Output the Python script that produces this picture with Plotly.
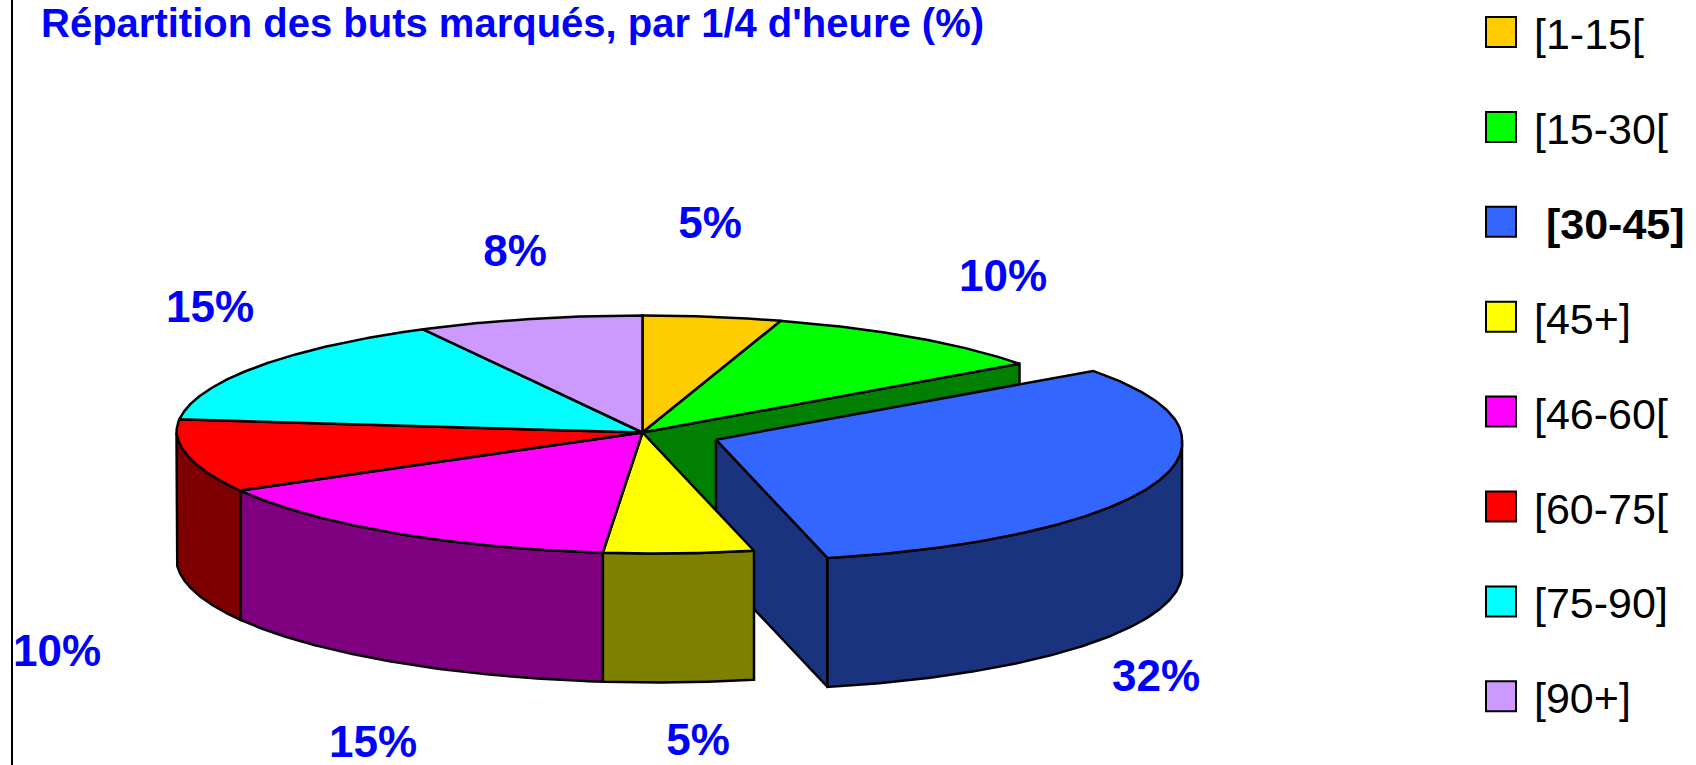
import numpy as np
import plotly.graph_objects as go

# ---------------- data ----------------
categories = ["[1-15[", "[15-30[", "[30-45]", "[45+]", "[46-60[", "[60-75[", "[75-90]", "[90+]"]
shares = [4.8, 10.2, 31.6, 5.2, 15.2, 9.8, 15.4, 7.8]          # % of goals per quarter hour
exploded = [False, False, True, False, False, False, False, False]
legend_bold = [False, False, True, False, False, False, False, False]
title_text = "Répartition des buts marqués, par 1/4 d'heure (%)"

# ---------------- styles / positions ----------------
colors = ["#FFCC00", "#00FF00", "#3366FF", "#FFFF00", "#FF00FF", "#FF0000", "#00FFFF", "#CC99FF"]
label_pos = [(710, 227), (1003, 280), (1156, 680), (698, 744),
             (373, 746), (57, 655), (210, 311), (515, 255)]
W, H = 1696, 765
CX, CY = 642.5, 432.5          # apex of the pie top face (pixels)
RX, RY_BACK, RY_FRONT = 466.0, 117.0, 121.0
SHEAR = 13.0                   # slight front skew of Excel's 3-D projection
DEPTH = 129.0
EXPLODE = 0.167
EDGE_W = 2.5
FONT = "Liberation Sans, Arial, sans-serif"


def darker(hexcol):
    r, g, b = (int(hexcol[i:i + 2], 16) for i in (1, 3, 5))
    return "#%02X%02X%02X" % (r // 2, g // 2, b // 2)


def proj(theta, z=0.0, off=(0.0, 0.0)):
    theta = np.asarray(theta, dtype=float)
    c, s = np.cos(theta), np.sin(theta)
    ry = np.where(c > 0, RY_BACK, RY_FRONT)
    x = CX + RX * s + SHEAR * np.maximum(0.0, -c) + off[0]
    y = CY - ry * c + z + off[1]
    return x, y


def poly_trace(xs, ys, fill):
    return go.Scatter(x=list(xs), y=list(ys), mode="lines", fill="toself",
                      fillcolor=fill, line=dict(color="black", width=EDGE_W),
                      hoverinfo="skip", showlegend=False)


total = float(sum(shares))
cum = np.concatenate([[0.0], np.cumsum(shares) / total]) * 2 * np.pi
slices = []
for i in range(len(shares)):
    t1, t2 = cum[i], cum[i + 1]
    off = (0.0, 0.0)
    if exploded[i]:
        mx, my = proj((t1 + t2) / 2)
        off = (EXPLODE * (float(mx) - CX), EXPLODE * (float(my) - CY))
    slices.append(dict(t1=t1, t2=t2, off=off, color=colors[i], dark=darker(colors[i]), ex=exploded[i]))


def top_face(sl):
    th = np.linspace(sl["t1"], sl["t2"], 200)
    ax, ay = proj(th, 0, sl["off"])
    cx, cy = CX + sl["off"][0], CY + sl["off"][1]
    return poly_trace(np.concatenate([[cx], ax, [cx]]), np.concatenate([[cy], ay, [cy]]), sl["color"])


def outer_wall(sl):
    a1, a2 = max(sl["t1"], np.pi / 2), min(sl["t2"], 3 * np.pi / 2)
    if a2 <= a1:
        return None
    th = np.linspace(a1, a2, 200)
    tx, ty = proj(th, 0, sl["off"])
    bx, by = proj(th[::-1], DEPTH, sl["off"])
    return poly_trace(np.concatenate([tx, bx, [tx[0]]]), np.concatenate([ty, by, [ty[0]]]), sl["dark"])


def radial_face(sl, theta):
    ox, oy = sl["off"]
    rx0, ry0 = proj(theta, 0, sl["off"])
    rx1, ry1 = proj(theta, DEPTH, sl["off"])
    xs = [CX + ox, float(rx0), float(rx1), CX + ox, CX + ox]
    ys = [CY + oy, float(ry0), float(ry1), CY + oy + DEPTH, CY + oy]
    return poly_trace(xs, ys, sl["dark"])


traces = []
n = len(slices)
# 1. cut faces of the main pie exposed by the exploded slice(s)
for i, sl in enumerate(slices):
    if sl["ex"]:
        continue
    nxt, prv = slices[(i + 1) % n], slices[(i - 1) % n]
    if nxt["ex"] and np.sin(sl["t2"]) > 0:
        traces.append(radial_face(sl, sl["t2"]))
    if prv["ex"] and np.sin(sl["t1"]) < 0:
        traces.append(radial_face(sl, sl["t1"]))
# 2. exploded slice(s)
for sl in slices:
    if not sl["ex"]:
        continue
    if np.sin(sl["t1"]) < 0:
        traces.append(radial_face(sl, sl["t1"]))
    if np.sin(sl["t2"]) > 0:
        traces.append(radial_face(sl, sl["t2"]))
    w = outer_wall(sl)
    if w is not None:
        traces.append(w)
    traces.append(top_face(sl))
# 3. outer walls of the main pie
for sl in slices:
    if not sl["ex"]:
        w = outer_wall(sl)
        if w is not None:
            traces.append(w)
# 4. top faces of the main pie
for sl in slices:
    if not sl["ex"]:
        traces.append(top_face(sl))

# percentage labels
traces.append(go.Scatter(
    x=[p[0] for p in label_pos], y=[p[1] for p in label_pos], mode="text",
    text=["<b>%d%%</b>" % round(v) for v in shares], textposition="middle center",
    textfont=dict(family=FONT, size=44, color="#0000FF"),
    hoverinfo="skip", showlegend=False))

fig = go.Figure(traces)

# custom legend (squares + labels)
LEG_X0, LEG_SIZE, LEG_Y0, LEG_STEP, LEG_TX = 1486, 30, 32, 94.9, 1532
shapes = [dict(type="line", x0=12, x1=12, y0=0, y1=H, xref="x", yref="y",
               line=dict(color="black", width=2))]
annotations = [dict(x=39, y=23, xref="x", yref="y", xanchor="left", yanchor="middle",
                    text="<b>" + title_text + "</b>", showarrow=False,
                    font=dict(family=FONT, size=40, color="#0000FF"))]
for i, cat in enumerate(categories):
    yc = LEG_Y0 + i * LEG_STEP
    shapes.append(dict(type="rect", x0=LEG_X0, x1=LEG_X0 + LEG_SIZE,
                       y0=yc - LEG_SIZE / 2, y1=yc + LEG_SIZE / 2, xref="x", yref="y",
                       fillcolor=colors[i], line=dict(color="black", width=2)))
    if legend_bold[i]:
        txt, size = "<b>\u00a0" + cat + "</b>", 43
    else:
        txt, size = cat, 43
    annotations.append(dict(x=LEG_TX, y=yc + 2, xref="x", yref="y", xanchor="left",
                            yanchor="middle", text=txt, showarrow=False,
                            font=dict(family=FONT, size=size, color="black")))

fig.update_layout(
    width=W, height=H, margin=dict(l=0, r=0, t=0, b=0),
    paper_bgcolor="white", plot_bgcolor="white",
    xaxis=dict(range=[0, W], visible=False, fixedrange=True),
    yaxis=dict(range=[H, 0], visible=False, fixedrange=True),
    shapes=shapes, annotations=annotations, showlegend=False,
)

fig.write_html("out.html", config={"displayModeBar": False},
               post_script="document.body.style.margin='0';document.body.style.overflow='hidden';")
